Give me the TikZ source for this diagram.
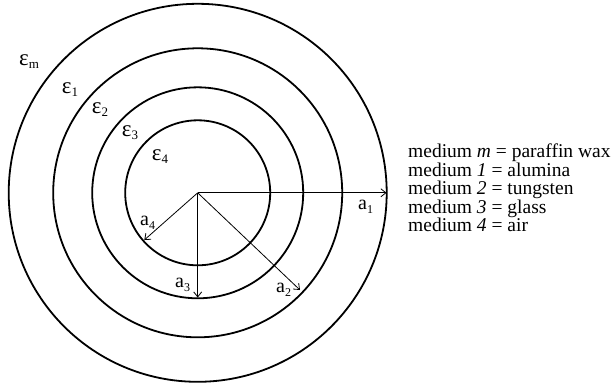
\documentclass[tikz,border=0pt]{standalone}
\usepackage{fontspec}
\setmainfont{Liberation Serif}
\usetikzlibrary{arrows.meta}
\newcommand\epslab[1]{{\fontsize{23}{23}\selectfont ε}\raisebox{-3pt}{\fontsize{13}{13}\selectfont #1}}
\newcommand\alab[1]{{\fontsize{20}{20}\selectfont a}\raisebox{-4pt}{\fontsize{12}{12}\selectfont #1}}
\begin{document}
\begin{tikzpicture}[x=1pt,y=-1pt,
  ring/.style={line width=1.8pt},
  radline/.style={line width=0.8pt,-{Straight Barb[length=5pt,width=8pt]}},
  lab/.style={inner sep=0pt,anchor=base west},
  leg/.style={inner sep=0pt,anchor=base west,font=\fontsize{19.5}{18.5}\selectfont}]
\useasboundingbox (0,0) rectangle (612,388);
\coordinate (O) at (197.7,192.8);
\draw[ring] (O) circle[radius=189];
\draw[ring] (O) circle[radius=144.5];
\draw[ring] (O) circle[radius=105.5];
\draw[ring] (O) circle[radius=72.5];
\coordinate (T1) at (386.5,192.8);
\coordinate (T2) at (300,290);
\coordinate (T3) at (197.7,297.5);
\coordinate (T4) at (144.3,240);
\draw[radline] (O) -- (T1);
\draw[radline] (O) -- (T2);
\draw[radline] (O) -- (T3);
\draw[radline] (O) -- (T4);
\node[lab] (em) at (19,65) {\epslab{m}};
\node[lab] (e1) at (61.7,93.3) {\epslab{1}};
\node[lab] (e2) at (91.7,113.3) {\epslab{2}};
\node[lab] (e3) at (121.7,136.7) {\epslab{3}};
\node[lab] (e4) at (151.7,160) {\epslab{4}};
\node[lab] (a1) at (358,209) {\alab{1}};
\node[lab] (a2) at (276,292) {\alab{2}};
\node[lab] (a3) at (175,287) {\alab{3}};
\node[lab] (a4) at (140,225.7) {\alab{4}};
\node[leg] (l0) at (408,157.5) {medium \textit{m} = paraffin wax};
\node[leg] (l1) at (408,176) {medium \textit{1} = alumina};
\node[leg] (l2) at (408,194.5) {medium \textit{2} = tungsten};
\node[leg] (l3) at (408,213) {medium \textit{3} = glass};
\node[leg] (l4) at (408,231.5) {medium \textit{4} = air};
\end{tikzpicture}
\end{document}
